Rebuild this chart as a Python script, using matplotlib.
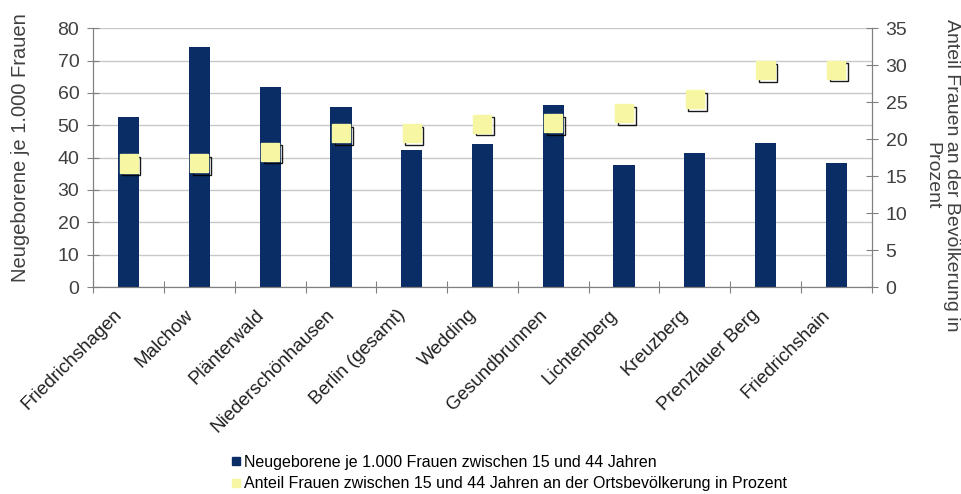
import matplotlib.pyplot as plt
import matplotlib.patheffects as pe
from matplotlib.lines import Line2D
import numpy as np

plt.rcParams['font.family'] = ['Liberation Sans', 'DejaVu Sans']

orte = ["Friedrichshagen", "Malchow", "Plänterwald", "Niederschönhausen",
        "Berlin (gesamt)", "Wedding", "Gesundbrunnen", "Lichtenberg",
        "Kreuzberg", "Prenzlauer Berg", "Friedrichshain"]
neugeborene = [52.4, 74.3, 61.8, 55.7, 42.3, 44.1, 56.2, 37.7, 41.5, 44.5, 38.2]
anteil_frauen = [16.7, 16.8, 18.3, 20.8, 20.8, 22.1, 22.2, 23.5, 25.4, 29.3, 29.4]
label_bar = "Neugeborene je 1.000 Frauen zwischen 15 und 44 Jahren"
label_pts = "Anteil Frauen zwischen 15 und 44 Jahren an der Ortsbevölkerung in Prozent"

bar_col = "#0b2d66"
mark_col = "#f7f7a3"
axis_col = "#808080"
text_col = "#404040"

fig = plt.figure(figsize=(9.61, 4.94), dpi=100)
ax = fig.add_axes([0.097, 0.419, 0.81, 0.524])
ax2 = ax.twinx()

x = np.arange(len(orte))
ax.bar(x, neugeborene, width=0.3, color=bar_col, zorder=2)
ax2.plot(x, anteil_frauen, linestyle="none", marker="s", markersize=13,
         markerfacecolor=mark_col, markeredgecolor=mark_col, zorder=3,
         path_effects=[pe.SimpleLineShadow(offset=(2, -2), shadow_color="black", alpha=0.9),
                       pe.Normal()])

ax.set_xlim(-0.5, len(orte) - 0.5)
ax.set_ylim(0, 80)
ax2.set_ylim(0, 35)
ax.set_yticks(range(0, 81, 10))
ax2.set_yticks(range(0, 36, 5))
ax.yaxis.grid(True, color="#c8c8c8", linewidth=1, zorder=0)
ax.set_axisbelow(True)

# category boundaries get the tick marks, labels sit on (slightly left of) the centres
ax.set_xticks(np.arange(-0.5, len(orte), 1), minor=False)
ax.set_xticklabels([])
ax.set_xticks(x - 0.21, minor=True)
ax.set_xticklabels(orte, minor=True, rotation=45, ha="right", rotation_mode="anchor",
                   fontsize=13.5, color="#202020")
ax.tick_params(axis="x", which="minor", length=0, pad=14)
ax.tick_params(axis="x", which="major", direction="inout", length=8, color=axis_col)
ax.tick_params(axis="y", direction="inout", length=8, color=axis_col, labelsize=14,
               labelcolor=text_col, pad=6)
ax2.tick_params(axis="y", direction="inout", length=8, color=axis_col, labelsize=14,
                labelcolor=text_col, pad=6)

for a in (ax, ax2):
    a.spines["top"].set_visible(False)
    for s in ("left", "right", "bottom"):
        a.spines[s].set_color(axis_col)

ax.set_ylabel("Neugeborene je 1.000 Frauen", fontsize=14.5, color=text_col,
              va="center", ha="center")
ax.yaxis.set_label_coords(-0.093, 0.54)
ax2.set_ylabel("Anteil Frauen an der Bevölkerung in\nProzent", fontsize=14, color=text_col,
               rotation=270, linespacing=1.2, va="center", ha="center")
ax2.yaxis.set_label_coords(1.09, 0.432)

handles = [Line2D([], [], linestyle="none", marker="s", markersize=6,
                  color=bar_col, label=label_bar),
           Line2D([], [], linestyle="none", marker="s", markersize=6,
                  color=mark_col, label=label_pts)]
fig.legend(handles=handles, loc="upper left", bbox_to_anchor=(0.234, 0.092),
           frameon=False, fontsize=11.5, handlelength=0.6, handletextpad=0.2,
           labelspacing=0.4, borderaxespad=0)

fig.savefig("out.png", dpi=100)
